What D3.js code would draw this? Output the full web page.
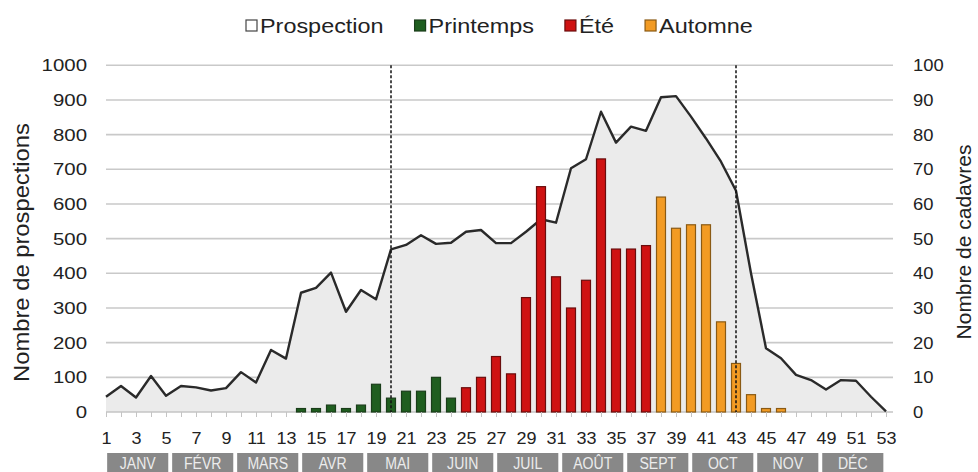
<!DOCTYPE html>
<html>
<head>
<meta charset="utf-8">
<script src="https://cdn.jsdelivr.net/npm/d3@7"></script>
<style>
  html, body { margin: 0; padding: 0; background: #ffffff; }
  svg { display: block; font-family: "Liberation Sans", Arial, sans-serif; }
</style>
</head>
<body>
<svg id="chart" width="978" height="472"></svg>
<script>
// Week numbers (categories on the x axis)
const weeks = [1,2,3,4,5,6,7,8,9,10,11,12,13,14,15,16,17,18,19,20,21,22,23,24,25,26,27,
               28,29,30,31,32,33,34,35,36,37,38,39,40,41,42,43,44,45,46,47,48,49,50,51,52,53];

// Number of prospections per week (left axis)
const prospections = [44,75,42,104,47,75,71,62,69,115,85,179,154,344,358,402,289,352,325,469,
                      482,510,485,488,520,525,487,487,520,556,546,703,729,866,777,823,811,908,
                      911,852,789,722,638,400,184,155,107,92,65,92,90,44,2];

// Number of carcasses per week, by season (right axis)
const printempsWeeks  = [14,15,16,17,18,19,20,21,22,23,24];
const printempsValues = [1,1,2,1,2,8,4,6,6,10,4];
const eteWeeks  = [25,26,27,28,29,30,31,32,33,34,35,36,37];
const eteValues = [7,10,16,11,33,65,39,30,38,73,47,47,48];
const automneWeeks  = [38,39,40,41,42,43,44,45,46];
const automneValues = [62,53,54,54,26,14,5,1,1];

// Season boundaries (dashed markers)
const boundaryWeeks = [20, 43];

// Axis ticks
const leftTicks  = [0,100,200,300,400,500,600,700,800,900,1000];
const rightTicks = [0,10,20,30,40,50,60,70,80,90,100];
const months = ["JANV","FÉVR","MARS","AVR","MAI","JUIN","JUIL","AOÛT","SEPT","OCT","NOV","DÉC"];

const legendItems = [
  { label: "Prospection", fill: "#ffffff", stroke: "#444444" },
  { label: "Printemps",   fill: "#1f5e1f", stroke: "#1a3d1a" },
  { label: "Été",         fill: "#cf1212", stroke: "#6a0d0d" },
  { label: "Automne",     fill: "#f29b24", stroke: "#8a5a14" }
];

const svg = d3.select("#chart");

const plotLeft = 106, plotRight = 886, gridRight = 893;
const plotTop = 65.3, plotBottom = 412;

const x = d3.scaleLinear().domain([1, 53]).range([plotLeft, plotRight]);
const yL = d3.scaleLinear().domain([0, 1000]).range([plotBottom, plotTop]);
const yR = d3.scaleLinear().domain([0, 100]).range([plotBottom, plotTop]);

// horizontally stretch/compress text glyphs
function stretch(sel, k) {
  sel.each(function () {
    const w = this.getComputedTextLength();
    if (w > 0) {
      this.setAttribute("textLength", w * k);
      this.setAttribute("lengthAdjust", "spacingAndGlyphs");
    }
  });
}

// Gridlines
svg.append("g")
  .selectAll("line")
  .data(leftTicks.filter(d => d > 0))
  .join("line")
  .attr("x1", plotLeft).attr("x2", gridRight)
  .attr("y1", d => yL(d)).attr("y2", d => yL(d))
  .attr("stroke", "#c9c9c9").attr("stroke-width", 1.6);

// Prospection area + line
const area = d3.area()
  .x((d, i) => x(weeks[i]))
  .y0(yL(0))
  .y1(d => yL(d));
const line = d3.line()
  .x((d, i) => x(weeks[i]))
  .y(d => yL(d));

svg.append("path")
  .datum(prospections)
  .attr("d", area)
  .attr("fill", "#ebebeb");

// Bottom axis line
svg.append("line")
  .attr("x1", plotLeft).attr("x2", gridRight)
  .attr("y1", plotBottom).attr("y2", plotBottom)
  .attr("stroke", "#c4c4c4").attr("stroke-width", 1.4);

svg.append("path")
  .datum(prospections)
  .attr("d", line)
  .attr("fill", "none")
  .attr("stroke", "#2a2a2a")
  .attr("stroke-width", 2.4)
  .attr("stroke-linejoin", "round");

// Carcass bars
const barW = 9;
function drawBars(wks, vals, item) {
  svg.append("g")
    .selectAll("rect")
    .data(vals)
    .join("rect")
    .attr("x", (d, i) => x(wks[i]) - barW / 2)
    .attr("y", d => yR(d))
    .attr("width", barW)
    .attr("height", d => yR(0) - yR(d))
    .attr("fill", item.fill)
    .attr("stroke", item.stroke)
    .attr("stroke-width", 1.2);
}
drawBars(printempsWeeks, printempsValues, legendItems[1]);
drawBars(eteWeeks, eteValues, legendItems[2]);
drawBars(automneWeeks, automneValues, legendItems[3]);

// Season boundary markers
svg.append("g")
  .selectAll("line")
  .data(boundaryWeeks)
  .join("line")
  .attr("x1", d => x(d)).attr("x2", d => x(d))
  .attr("y1", yL(1000)).attr("y2", yL(0))
  .attr("stroke", "#111111")
  .attr("stroke-width", 1.5)
  .attr("stroke-dasharray", "3,2");

// Left axis
const gL = svg.append("g")
  .attr("transform", `translate(96,0)`)
  .call(d3.axisLeft(yL).tickValues(leftTicks).tickSize(0).tickPadding(9)
    .tickFormat(d3.format("d")));
gL.select(".domain").remove();
gL.selectAll("text").attr("font-size", 17).attr("fill", "#222222")
  .attr("font-family", "Liberation Sans, Arial, sans-serif");
stretch(gL.selectAll("text"), 1.2);

// Right axis
const gR = svg.append("g")
  .attr("transform", `translate(904,0)`)
  .call(d3.axisRight(yR).tickValues(rightTicks).tickSize(0).tickPadding(9)
    .tickFormat(d3.format("d")));
gR.select(".domain").remove();
gR.selectAll("text").attr("font-size", 17).attr("fill", "#222222")
  .attr("font-family", "Liberation Sans, Arial, sans-serif");
stretch(gR.selectAll("text"), 1.08);

// Bottom axis (every week ticked, odd weeks labelled)
const gB = svg.append("g")
  .attr("transform", `translate(0,${plotBottom})`)
  .call(d3.axisBottom(x).tickValues(weeks).tickSize(5).tickPadding(15)
    .tickFormat(d => (d % 2 === 1 ? String(d) : "")));
gB.select(".domain").remove();
gB.selectAll(".tick line").attr("stroke", "#c4c4c4").attr("stroke-width", 1);
gB.selectAll("text").attr("font-size", 17).attr("fill", "#222222")
  .attr("font-family", "Liberation Sans, Arial, sans-serif");
stretch(gB.selectAll("text"), 1.06);

// Month bands under the week axis
const mb = d3.scaleBand().domain(months).range([106.5, 884]).paddingInner(0.06).paddingOuter(0.01);
const gM = svg.append("g");
gM.selectAll("rect")
  .data(months)
  .join("rect")
  .attr("x", d => mb(d)).attr("y", 453)
  .attr("width", mb.bandwidth()).attr("height", 19)
  .attr("fill", "#888888");
const mt = gM.selectAll("text")
  .data(months)
  .join("text")
  .attr("x", d => mb(d) + mb.bandwidth() / 2)
  .attr("y", 469)
  .attr("text-anchor", "middle")
  .attr("font-size", 16)
  .attr("fill", "#ececec")
  .text(d => d);
stretch(mt, 0.88);

// Axis titles
const tl = svg.append("text")
  .attr("transform", `translate(29,252.5) rotate(-90)`)
  .attr("text-anchor", "middle")
  .attr("font-size", 22)
  .attr("fill", "#222222")
  .text("Nombre de prospections");
const tr = svg.append("text")
  .attr("transform", `translate(971,242) rotate(-90)`)
  .attr("text-anchor", "middle")
  .attr("font-size", 21)
  .attr("fill", "#222222")
  .text("Nombre de cadavres");
stretch(tl, 1.08);

// Legend
const legend = svg.append("g");
let lx = 246;
legendItems.forEach((item, i) => {
  legend.append("rect")
    .attr("x", lx).attr("y", 20)
    .attr("width", 11).attr("height", 11)
    .attr("fill", item.fill)
    .attr("stroke", item.stroke)
    .attr("stroke-width", 1.2);
  const t = legend.append("text")
    .attr("x", lx + 14).attr("y", 33)
    .attr("font-size", 20)
    .attr("fill", "#222222")
    .text(item.label);
  stretch(t, 1.17);
  lx += 14 + t.node().getComputedTextLength() + 31;
});
</script>
</body>
</html>
